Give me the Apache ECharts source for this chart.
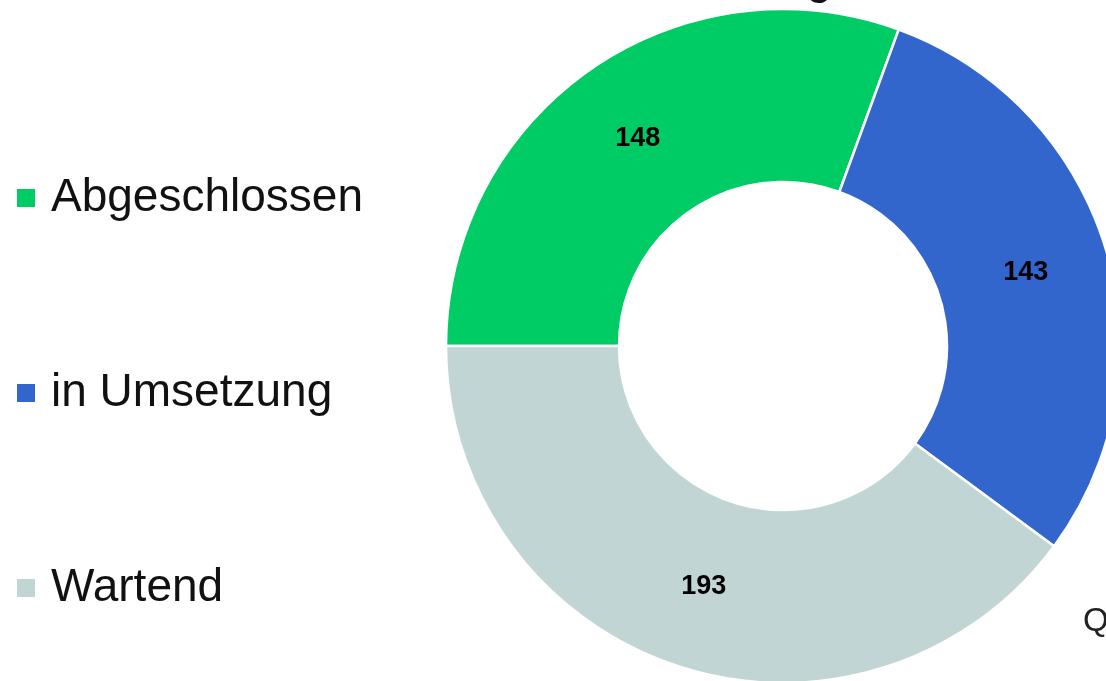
<!DOCTYPE html>
<html>
<head>
<meta charset="utf-8">
<script src="https://cdn.jsdelivr.net/npm/echarts@6/dist/echarts.min.js"></script>
<style>
  html, body { margin: 0; padding: 0; background: #fff; }
  #chart { width: 1106px; height: 681px; }
</style>
</head>
<body>
<div id="chart"></div>
<script>
// Daten
var categories = ['Abgeschlossen', 'in Umsetzung', 'Wartend']
var values = [148, 143, 193]
var colors = ['#00cc66', '#3366cc', '#c1d6d4']

var chart = echarts.init(document.getElementById('chart'))

var pieData = []
for (var i = 0; i < categories.length; i++) {
  pieData.push({ name: categories[i], value: values[i], itemStyle: { color: colors[i] } })
}

var option = {
  animation: false,
  legend: {
    orient: 'vertical',
    left: 10,
    top: 168,
    icon: 'rect',
    itemWidth: 20,
    itemHeight: 20,
    itemGap: 145,
    data: categories,
    textStyle: {
      fontFamily: 'Liberation Sans',
      fontSize: 46,
      lineHeight: 50,
      color: '#111',
      padding: [0, 0, 0, 10]
    }
  },
  graphic: [
    // Reste von Titel und Quelle, die im Ausschnitt abgeschnitten sind
    {
      type: 'text',
      left: 806,
      top: -43,
      style: { text: 'g', font: '47px "Liberation Sans"', fill: '#111' }
    },
    {
      type: 'text',
      left: 1083,
      top: 605,
      style: { text: 'Quelle', font: '33px "Liberation Sans"', fill: '#222' }
    }
  ],
  series: [
    {
      type: 'pie',
      center: [783, 346],
      radius: [164, 337],
      startAngle: 180,
      clockwise: true,
      itemStyle: { borderColor: '#fff', borderWidth: 2.5 },
      label: {
        show: true,
        position: 'inside',
        formatter: '{c}',
        color: '#000',
        fontFamily: 'Liberation Sans',
        fontWeight: 'bold',
        fontSize: 27
      },
      labelLine: { show: false },
      emphasis: { disabled: true },
      data: pieData
    }
  ]
}

chart.setOption(option)
</script>
</body>
</html>
